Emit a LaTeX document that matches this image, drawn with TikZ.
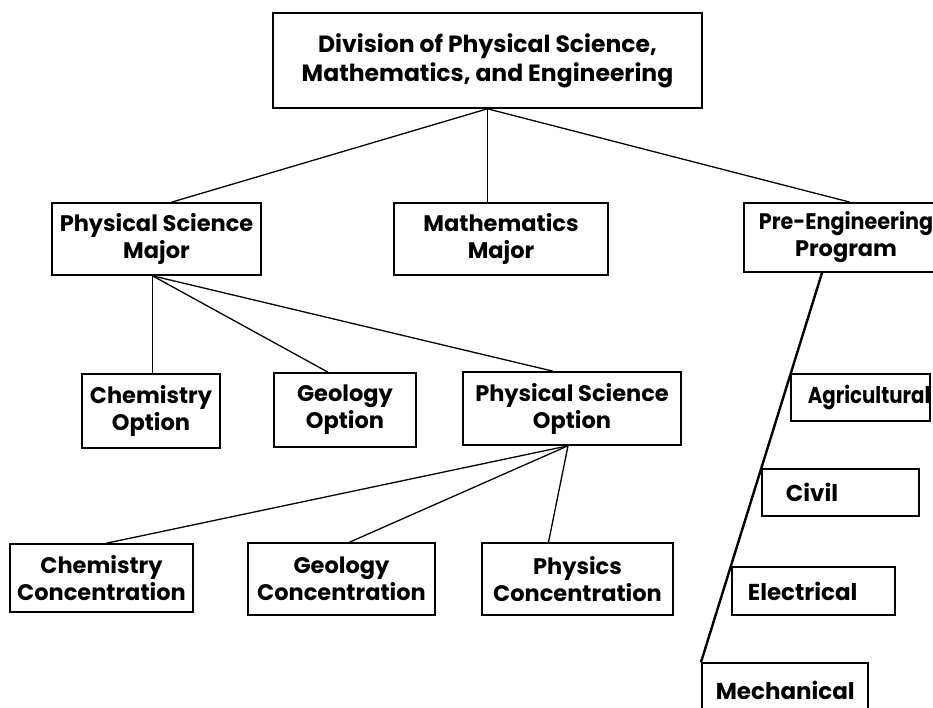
\documentclass[tikz,border=0pt]{standalone}
\usepackage{fontspec}
\usepackage{graphicx}
\setmainfont{Poppins}
\begin{document}
\begin{tikzpicture}[x=1pt,y=-1pt,
  box/.style={draw, line width=1.6pt, inner sep=0pt, align=center,
    font=\bfseries\fontsize{22.5}{27}\selectfont},
  topbox/.style={box, font=\bfseries\fontsize{23.5}{29}\selectfont},
  engbox/.style={draw, line width=1.6pt, inner ysep=0pt, align=left, anchor=west,
    font=\bfseries\fontsize{23}{27}\selectfont},
  link/.style={line width=1.3pt},
  thick link/.style={line width=2.4pt}
]
\useasboundingbox (0,0) rectangle (933,708);
\clip (0,0) rectangle (933,708);

% level 0
\node[topbox, minimum width=429pt, minimum height=95pt] (div) at (487.5,60.5)
  {Division of Physical Science,\\Mathematics, and Engineering};

% level 1
\node[box, minimum width=209pt, minimum height=72pt] (psm) at (156.5,239) {Physical Science\\Major};
\node[box, minimum width=214pt, minimum height=72pt] (mm) at (501,239) {Mathematics\\Major};
\node[box, minimum width=204pt, minimum height=69pt] (pe) at (846,237.5)
  {\scalebox{0.92}[1]{Pre-Engineering}\\Program};

% level 2
\node[box, minimum width=138pt, minimum height=74pt] (co) at (151,411) {Chemistry\\Option};
\node[box, minimum width=142pt, minimum height=74pt] (go) at (345,410) {Geology\\Option};
\node[box, minimum width=218pt, minimum height=73pt] (pso) at (572,408.5) {Physical Science\\Option};

% level 3
\node[box, minimum width=183pt, minimum height=68pt] (cc) at (101.5,578) {Chemistry\\Concentration};
\node[box, minimum width=187pt, minimum height=72pt] (gc) at (341.5,579) {Geology\\Concentration};
\node[box, minimum width=191pt, minimum height=72pt] (phc) at (577.5,579) {Physics\\Concentration};

% engineering branches
\node[engbox, inner xsep=17pt, text width=105pt, minimum height=47pt] (ag) at (790,397.5)
  {\scalebox{0.86}[1]{Agricultural}};
\node[engbox, inner xsep=24pt, text width=109pt, minimum height=47pt] (civ) at (761,492.5) {Civil};
\node[engbox, inner xsep=16pt, text width=131pt, minimum height=48pt] (el) at (731,591) {Electrical};
\node[engbox, inner xsep=14pt, text width=138pt, minimum height=54pt] (me) at (701,690) {Mechanical};

% connectors
\draw[link] (div.south) -- ([xshift=15pt]psm.north);
\draw[link] (div.south) -- (div.south |- mm.north);
\draw[link] (div.south) -- ([xshift=4pt]pe.north);

\coordinate (psmB) at ([xshift=-4pt]psm.south);
\draw[link] (psmB) -- (psmB |- co.north);
\draw[link] (psmB) -- ([xshift=-17pt]go.north);
\draw[link] (psmB) -- ([xshift=-19pt]pso.north);

\coordinate (psoB) at ([xshift=-4pt]pso.south);
\draw[link] (psoB) -- ([xshift=5pt]cc.north);
\draw[link] (psoB) -- ([xshift=8pt]gc.north);
\draw[link] (psoB) -- ([xshift=-29pt]phc.north);

\draw[thick link] ([xshift=-24pt]pe.south) -- (me.north west);
\end{tikzpicture}
\end{document}
